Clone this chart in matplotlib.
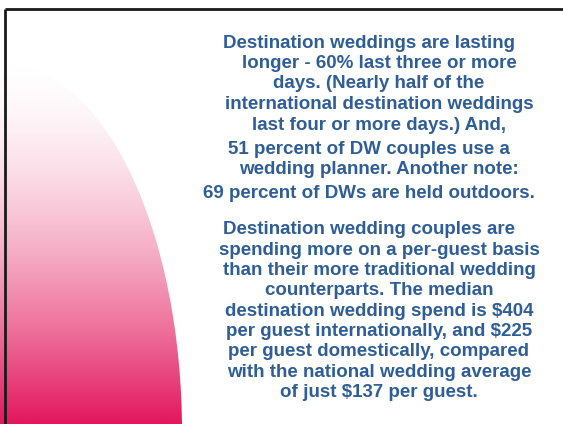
import numpy as np
import matplotlib
matplotlib.use("Agg")
import matplotlib.pyplot as plt
from matplotlib.patches import Ellipse

# slide text, one entry per rendered line
para1 = [
    "Destination weddings are lasting",
    "longer - 60% last three or more",
    "days. (Nearly half of the",
    "international destination weddings",
    "last four or more days.) And,",
]
para2 = [
    "51 percent of DW couples use a",
    "wedding planner. Another note:",
]
para3 = ["69 percent of DWs are held outdoors."]
para4 = [
    "Destination wedding couples are",
    "spending more on a per-guest basis",
    "than their more traditional wedding",
    "counterparts. The median",
    "destination wedding spend is $404",
    "per guest internationally, and $225",
    "per guest domestically, compared",
    "with the national wedding average",
    "of just $137 per guest.",
]

W, H = 563, 424
text_color = "#2F5E96"
pink = np.array([226, 22, 92]) / 255.0

fig = plt.figure(figsize=(W / 100, H / 100), dpi=100)
ax = fig.add_axes([0, 0, 1, 1])
ax.set_xlim(0, W)
ax.set_ylim(H, 0)
ax.axis("off")

# gradient shape on the left: quarter ellipse, white at top -> pink at bottom
top, bot = 65, H
t = np.clip((np.linspace(0, H, 400) - top) / (bot - top), 0, 1) ** 1.6
img = np.ones((400, 1, 3)) * (1 - t[:, None, None]) + pink * t[:, None, None]
im = ax.imshow(img, extent=(0, 200, H, 0), aspect="auto", zorder=1)
clip = Ellipse((5, 432), 2 * 177, 2 * 367, transform=ax.transData)
im.set_clip_path(clip)

# slide border (top and left only)
ax.plot([4.5, W], [8.7, 8.7], color="#1a1a1a", lw=2.0, zorder=3, solid_capstyle="butt")
ax.plot([4.7, 4.7], [8.7, H], color="#1a1a1a", lw=2.0, zorder=3, solid_capstyle="butt")

font = dict(family=["Liberation Sans", "DejaVu Sans"], weight="bold",
            fontsize=13.5, color=text_color, ha="center", va="center")

# first line of each paragraph sits a little left (trailing space in the source)
def draw_block(lines, y0, step):
    for i, line in enumerate(lines):
        x = 369 if i == 0 else 379
        ax.text(x, y0 + i * step, line, **font)

draw_block(para1, 43, 20.5)
draw_block(para2, 149, 20.5)
draw_block(para3, 193, 20.5)
draw_block(para4, 230, 20.3)

fig.savefig("out.png", dpi=100)
